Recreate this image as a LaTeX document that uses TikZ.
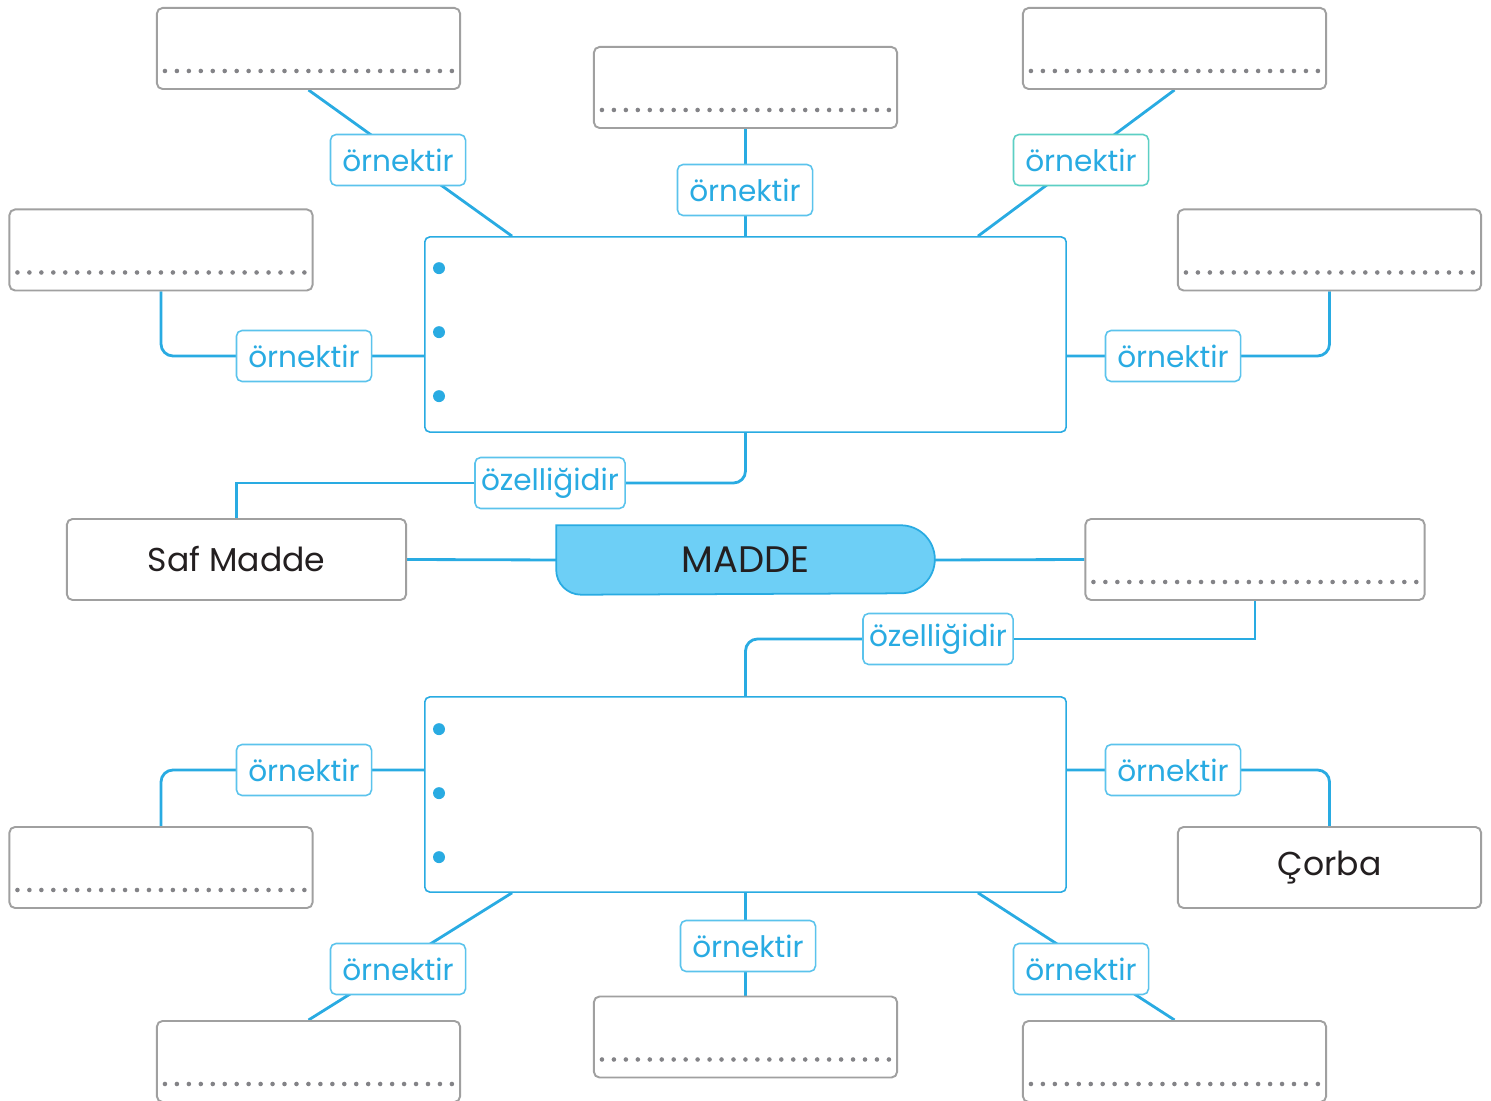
\documentclass[tikz,border=0pt]{standalone}
\usepackage{fontspec}
\setmainfont{Poppins}
\usepackage{xcolor}
\usepackage{tikz}
\usetikzlibrary{backgrounds}

\definecolor{linkblue}{HTML}{29ABE2}
\definecolor{tagblue}{HTML}{5BC3EC}
\definecolor{tagteal}{HTML}{5CCFC4}
\definecolor{maddefill}{HTML}{6DCFF6}
\definecolor{boxgray}{HTML}{A0A0A0}
\definecolor{dotgray}{HTML}{838387}
\definecolor{inkblack}{HTML}{231F20}

\begin{document}
\begin{tikzpicture}[x=0.01cm, y=-0.01cm,
  link/.style={draw=linkblue, line width=0.8pt},
  gbox/.style={draw=boxgray, line width=0.55pt, rounded corners=1.6pt, fill=white, minimum width=3.03cm, minimum height=0.81cm, inner sep=0pt, text=inkblack, font=\fontsize{9.4}{11}\selectfont},
  wbox/.style={gbox, minimum width=3.39cm},
  bigbox/.style={draw=linkblue, line width=0.45pt, rounded corners=1.4pt, fill=white, minimum width=6.41cm, minimum height=1.95cm},
  tag/.style={draw=tagblue, line width=0.45pt, rounded corners=1.6pt, fill=white, text=linkblue, minimum width=1.35cm, minimum height=0.51cm, inner sep=0pt, font=\fontsize{8.4}{10}\selectfont},
  widetag/.style={tag, minimum width=1.5cm},
  dotline/.style={dotgray, line width=1.3pt, line cap=round, dash pattern=on 0pt off 3.4pt},
  bullet/.style={fill=linkblue}]
\useasboundingbox (0,0) rectangle (1491,1101);

\node (tl) [gbox] at (308.5,48.5) {};
\node (tc) [gbox] at (745.5,87.5) {};
\node (tr) [gbox] at (1174.5,48.5) {};
\node (l1) [gbox] at (161,250) {};
\node (r1) [gbox] at (1329.5,250) {};
\node (saf) [wbox] at (236.5,559.5) {Saf Madde};
\node (rm) [wbox] at (1255,559.5) {};
\node (l2) [gbox] at (161,867.5) {};
\node (corba) [gbox] at (1329.5,867.5) {Çorba};
\node (bl) [gbox] at (308.5,1061.5) {};
\node (bc) [gbox] at (745.5,1037) {};
\node (br) [gbox] at (1174.5,1061.5) {};

\node (ub) [bigbox] at (745.5,334.5) {};
\node (lb) [bigbox] at (745.5,794.5) {};
\node (madde) [minimum width=3.77cm, minimum height=0.68cm, inner sep=0pt, text=inkblack, font=\fontsize{10.5}{12}\selectfont] at (745.5,560) {MADDE};

\node (otl) [tag] at (398,160) {örnektir};
\node (otc) [tag] at (745,190) {örnektir};
\node (otr) [tag, draw=tagteal] at (1081,160) {örnektir};
\node (ol1) [tag] at (304,356) {örnektir};
\node (or1) [tag] at (1173,356) {örnektir};
\node (oz1) [widetag] at (550,483) {özelliğidir};
\node (oz2) [widetag] at (938,639) {özelliğidir};
\node (ol2) [tag] at (304,770) {örnektir};
\node (or2) [tag] at (1173,770) {örnektir};
\node (obl) [tag] at (398,969) {örnektir};
\node (obc) [tag] at (748,946) {örnektir};
\node (obr) [tag] at (1081,969) {örnektir};

\foreach \b in {tl,tc,tr,l1,r1,rm,l2,bl,bc,br}
  \draw[dotline] ([shift={(9,-19)}]\b.south west) -- ([shift={(-8,-19)}]\b.south east);

\foreach \dy in {32,96,160} {
  \fill[bullet] ([shift={(15,\dy)}]ub.north west) circle (1.7pt);
  \fill[bullet] ([shift={(15,\dy+1)}]lb.north west) circle (1.7pt);
}

\begin{scope}[on background layer]
\draw[draw=linkblue, fill=maddefill, line width=0.5pt] (madde.north west) -- ([shift={(-34,0)}]madde.north east)
  arc[start angle=90, end angle=-90, radius=0.34cm] -- ([shift={(25,0)}]madde.south west)
  arc[start angle=270, end angle=180, radius=0.25cm] -- cycle;

\draw[link] (tl.south) -- ([shift={(88,0)}]ub.north west);
\draw[link] (tc.south) -- (ub.north);
\draw[link] (tr.south) -- ([shift={(-89,0)}]ub.north east);
\draw[link, rounded corners=0.12cm] (l1.south) |- (ub.west |- ol1);
\draw[link, rounded corners=0.12cm] (ub.east |- or1) -| (r1.south);
\draw[link, rounded corners=0.12cm] (ub.south) |- (oz1.east);
\draw[link] (oz1.west) -| (saf.north);
\draw[link] (saf.east) -- (madde.west);
\draw[link] (madde.east) -- (rm.west);
\draw[link] (rm.south) |- (oz2.east);
\draw[link, rounded corners=0.12cm] (oz2.west) -| (lb.north);
\draw[link, rounded corners=0.12cm] (lb.west |- ol2) -| (l2.north);
\draw[link, rounded corners=0.12cm] (lb.east |- or2) -| (corba.north);
\draw[link] ([shift={(88,0)}]lb.south west) -- (bl.north);
\draw[link] (lb.south) -- (bc.north);
\draw[link] ([shift={(-89,0)}]lb.south east) -- (br.north);
\end{scope}
\end{tikzpicture}
\end{document}
